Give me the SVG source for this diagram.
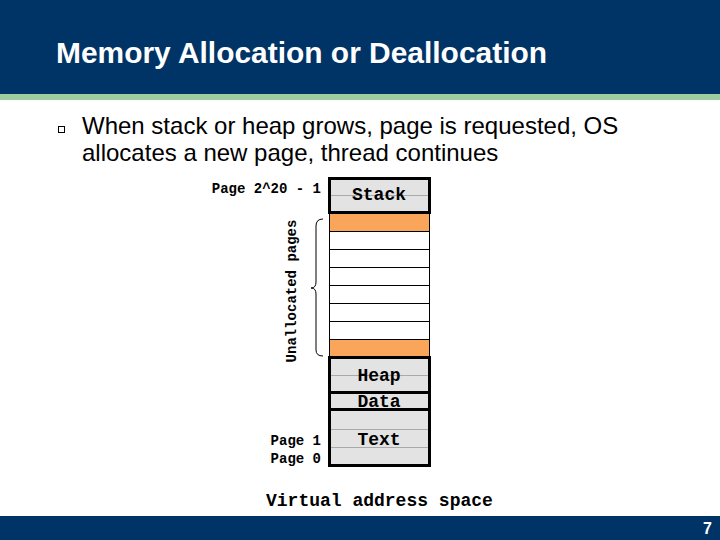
<svg xmlns="http://www.w3.org/2000/svg" width="720" height="540" viewBox="0 0 720 540">
<style>
.mono{font-family:"Liberation Mono","Courier New",monospace;font-weight:bold;fill:#000}
.lbl{font-size:14px}
.seg{font-size:18px;text-anchor:middle}
.box{fill:#e3e3e3;stroke:#000;stroke-width:3}
.page{fill:#fff;stroke:#000;stroke-width:1}
.free{fill:#f9a65a;stroke:#000;stroke-width:1}
.thin{stroke:#aaa;stroke-width:1}
</style>
<rect x="0" y="0" width="720" height="540" fill="#fff"/>
<rect x="0" y="0" width="720" height="94" fill="#003366"/>
<rect x="0" y="94" width="720" height="6" fill="#9fcc9f"/>
<text x="56" y="63" font-family="Liberation Sans, Arial, sans-serif" font-weight="bold" font-size="30" fill="#fff" textLength="491" lengthAdjust="spacingAndGlyphs">Memory Allocation or Deallocation</text>
<rect x="58.500" y="126.500" width="6" height="6" fill="none" stroke="#000" stroke-width="1"/>
<text font-family="Liberation Sans, Arial, sans-serif" font-size="24" fill="#000"><tspan x="82" y="134">When stack or heap grows, page is requested, OS</tspan><tspan x="82" y="161">allocates a new page, thread continues</tspan></text>

<g id="labels">
<text class="mono lbl" x="321" y="193" text-anchor="end">Page 2^20 - 1</text>
<text class="mono lbl" x="321" y="445" text-anchor="end">Page 1</text>
<text class="mono lbl" x="321" y="463" text-anchor="end">Page 0</text>
<text class="mono lbl" transform="translate(296,291) rotate(-90)" text-anchor="middle">Unallocated pages</text>
</g>

<g id="stack">
<rect class="box" x="329.500" y="178.500" width="100" height="34"/>
<line class="thin" x1="331" y1="195.500" x2="428" y2="195.500"/>
<text class="mono seg" x="379" y="200">Stack</text>
</g>

<g id="pages">
<rect class="free" x="329.500" y="213.500" width="100" height="18"/>
<rect class="page" x="329.500" y="231.500" width="100" height="18"/>
<rect class="page" x="329.500" y="249.500" width="100" height="18"/>
<rect class="page" x="329.500" y="267.500" width="100" height="18"/>
<rect class="page" x="329.500" y="285.500" width="100" height="18"/>
<rect class="page" x="329.500" y="303.500" width="100" height="18"/>
<rect class="page" x="329.500" y="321.500" width="100" height="18"/>
<rect class="free" x="329.500" y="339.500" width="100" height="17"/>
</g>

<g id="heap">
<rect class="box" x="329.500" y="357.500" width="100" height="35"/>
<line class="thin" x1="331" y1="375.500" x2="428" y2="375.500"/>
<text class="mono seg" x="379" y="381">Heap</text>
</g>
<g id="data">
<rect class="box" x="329.500" y="392.500" width="100" height="17"/>
<text class="mono seg" x="379" y="407">Data</text>
</g>
<g id="text">
<rect class="box" x="329.500" y="409.500" width="100" height="56"/>
<line class="thin" x1="331" y1="429.500" x2="428" y2="429.500"/>
<line class="thin" x1="331" y1="447.500" x2="428" y2="447.500"/>
<text class="mono seg" x="379" y="445">Text</text>
</g>

<g id="connectors">
<path d="M323,219 Q316,219 316,226 L316,282 Q316,288 311,288 Q316,288 316,294 L316,350 Q316,356 323,356" fill="none" stroke="#000" stroke-width="1"/>
</g>

<text class="mono" x="266" y="506" font-size="18">Virtual address space</text>
<rect x="0" y="516" width="720" height="24" fill="#003366"/>
<text x="712" y="534" text-anchor="end" font-family="Liberation Sans, Arial, sans-serif" font-weight="bold" font-size="16" fill="#fff">7</text>
</svg>
